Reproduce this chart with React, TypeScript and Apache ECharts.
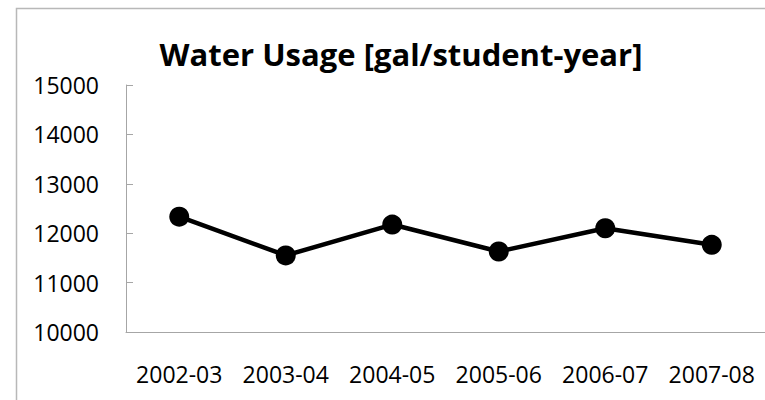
import React, { useEffect, useRef } from "react";
import * as echarts from "echarts";

const categories = ["2002-03", "2003-04", "2004-05", "2005-06", "2006-07", "2007-08"];
const waterUsage = [12335, 11550, 12175, 11630, 12100, 11765];
const titleText = "Water Usage [gal/student-year]";
const yMin = 10000;
const yMax = 15000;
const yStep = 1000;

export default function App() {
  const ref = useRef<HTMLDivElement>(null);
  useEffect(() => {
    if (!ref.current) return;
    const chart = echarts.init(ref.current, undefined, { renderer: "svg" });
    const font = "'Open Sans', 'Noto Sans', sans-serif";
    chart.setOption({
      animation: false,
      backgroundColor: "#ffffff",
      title: {
        text: titleText,
        left: 396,
        textAlign: "center",
        top: 33,
        textStyle: { fontFamily: font, fontWeight: "bold", fontSize: 31, color: "#000" },
      },
      graphic: [
        {
          type: "rect",
          shape: { x: 16.5, y: 8.5, width: 900, height: 600 },
          style: { fill: "none", stroke: "#b8b8b8", lineWidth: 1.5 },
          silent: true,
        },
      ],
      grid: { left: 126, top: 85, width: 650, height: 247, containLabel: false },
      xAxis: {
        type: "category",
        data: categories,
        boundaryGap: true,
        axisLine: { lineStyle: { color: "#a6a6a6", width: 1 } },
        axisTick: { show: false },
        axisLabel: { fontFamily: font, fontSize: 23, color: "#000", margin: 30, interval: 0 },
        splitLine: { show: false },
      },
      yAxis: {
        type: "value",
        min: yMin,
        max: yMax,
        interval: yStep,
        axisLine: { show: true, lineStyle: { color: "#a6a6a6", width: 1 } },
        axisTick: { show: true, inside: true, length: 7, lineStyle: { color: "#a6a6a6" } },
        axisLabel: {
          fontFamily: font,
          fontSize: 23,
          color: "#000",
          margin: 27,
          formatter: (v: number) => String(v),
        },
        splitLine: { show: false },
      },
      series: [
        {
          type: "line",
          data: waterUsage,
          symbol: "circle",
          symbolSize: 20,
          lineStyle: { color: "#000", width: 4.5 },
          itemStyle: { color: "#000" },
        },
      ],
    });
    return () => chart.dispose();
  }, []);
  return (
    <div
      ref={ref}
      style={{ position: "fixed", left: 0, top: 0, width: 765, height: 400, overflow: "hidden" }}
    />
  );
}
